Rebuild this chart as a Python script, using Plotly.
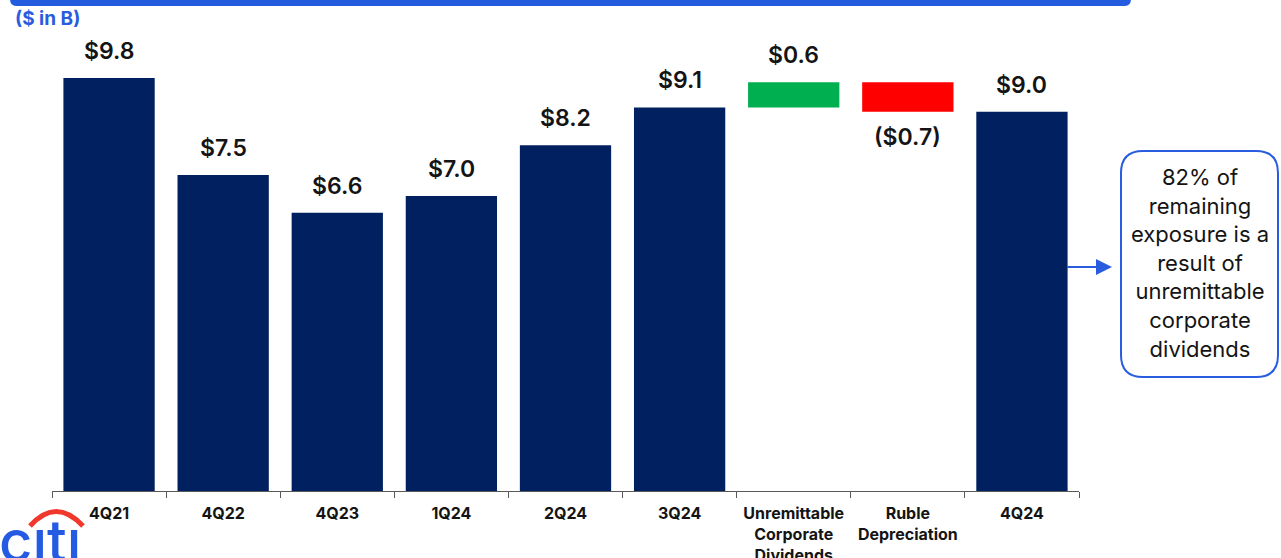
import plotly.graph_objects as go

# Russia exposure ($B) by period, plus the bridge from 3Q24 to 4Q24
categories = ["4Q21", "4Q22", "4Q23", "1Q24", "2Q24", "3Q24",
              "Unremittable<br>Corporate<br>Dividends", "Ruble<br>Depreciation", "4Q24"]
period_values = [9.8, 7.5, 6.6, 7.0, 8.2, 9.1]
bridge_changes = [0.6, -0.7]
ending_value = 9.0
unit_note = "($ in B)"
callout_lines = ["82% of", "remaining", "exposure is a", "result of",
                 "unremittable", "corporate", "dividends"]

NAVY = "#002060"
GREEN = "#00B050"
RED = "#FF0000"
BLUE = "#2A5CE0"
TEXT = "#141414"

W, H = 1281, 558
ML, MR, MT, MB = 52, 202, 30, 67
PW, PH = W - ML - MR, H - MT - MB
Y_MAX = PH / 42.15


def px(x):
    return (x - ML) / PW


def py(y):
    return (H - MB - y) / PH


measures = ["absolute"] * len(period_values) + ["relative"] * len(bridge_changes) + ["total"]
values = period_values + bridge_changes + [ending_value]

fig = go.Figure(go.Waterfall(
    x=categories,
    y=values,
    measure=measures,
    base=0,
    increasing=dict(marker=dict(color=GREEN)),
    decreasing=dict(marker=dict(color=RED)),
    totals=dict(marker=dict(color=NAVY)),
    connector=dict(visible=False),
    hoverinfo="skip",
))

# value labels, placed from the running total
annotations = []
running = 0.0
for cat, m, v in zip(categories, measures, values):
    if m == "absolute":
        running = v
        top, label, below = v, f"${v:.1f}", False
    elif m == "relative":
        running = round(running + v, 4)
        if v >= 0:
            top, label, below = running, f"${v:.1f}", False
        else:
            top, label, below = running, f"(${abs(v):.1f})", True
    else:
        top, label, below = running, f"${running:.1f}", False
    annotations.append(dict(
        x=cat, y=top, xref="x", yref="y", text=label, showarrow=False,
        yanchor="top" if below else "bottom", yshift=-9 if below else 11,
        font=dict(family="Inter", size=23, color=TEXT, weight=600),
    ))

annotations.append(dict(
    x=px(13), y=py(18), xref="paper", yref="paper", text=unit_note, showarrow=False,
    xanchor="left", yanchor="middle",
    font=dict(family="Inter", size=19, color=BLUE, weight=700),
))

annotations.append(dict(
    x=px(1200), y=py(263), xref="paper", yref="paper",
    text="<br>".join(callout_lines), showarrow=False, align="center",
    xanchor="center", yanchor="middle",
    font=dict(family="Inter", size=22, color=TEXT),
))

annotations.append(dict(
    x=px(-3), y=py(541), xref="paper", yref="paper", text="cıtı", showarrow=False,
    xanchor="left", yanchor="middle",
    font=dict(family="Inter", size=58, color="#255BE3", weight=500),
))


def rounded_rect(x0, y0, x1, y1, r):
    X0, X1 = px(x0), px(x1)
    Y0, Y1 = py(y0), py(y1)
    rx, ry = r / PW, r / PH
    return (f"M{X0 + rx},{Y0} L{X1 - rx},{Y0} Q{X1},{Y0} {X1},{Y0 - ry} "
            f"L{X1},{Y1 + ry} Q{X1},{Y1} {X1 - rx},{Y1} L{X0 + rx},{Y1} "
            f"Q{X0},{Y1} {X0},{Y1 + ry} L{X0},{Y0 - ry} Q{X0},{Y0} {X0 + rx},{Y0} Z")


shapes = [
    # header band
    dict(type="path", xref="paper", yref="paper", path=rounded_rect(10, -20, 1131, 6, 7),
         fillcolor="#245CE0", line=dict(width=0)),
    # callout box
    dict(type="path", xref="paper", yref="paper", path=rounded_rect(1121, 151, 1278, 377, 22),
         fillcolor="white", line=dict(color=BLUE, width=2)),
    # arrow shaft and head
    dict(type="line", xref="paper", yref="paper", x0=px(1067), x1=px(1098), y0=py(267), y1=py(267),
         line=dict(color=BLUE, width=2)),
    dict(type="path", xref="paper", yref="paper",
         path=f"M{px(1096)},{py(259)} L{px(1112)},{py(267)} L{px(1096)},{py(275)} Z",
         fillcolor=BLUE, line=dict(width=0)),
    # logo arc
    dict(type="path", xref="paper", yref="paper",
         path=f"M{px(30)},{py(526)} Q{px(56)},{py(497)} {px(83)},{py(526)}",
         line=dict(color="#F0382C", width=5)),
]

fig.update_layout(
    width=W, height=H,
    margin=dict(l=ML, r=MR, t=MT, b=MB, pad=0),
    paper_bgcolor="white", plot_bgcolor="white",
    waterfallgap=0.2,
    showlegend=False,
    annotations=annotations,
    shapes=shapes,
    xaxis=dict(
        type="category", showline=True, linecolor="#595959", linewidth=1,
        ticks="outside", tickson="boundaries", ticklen=6, tickcolor="#595959", tickwidth=1,
        ticklabelstandoff=8,
        tickfont=dict(family="Inter", size=16, color=TEXT, weight=700),
        showgrid=False, fixedrange=True, automargin=False,
    ),
    yaxis=dict(range=[0, Y_MAX], visible=False, showgrid=False, fixedrange=True),
)

fig.write_html("out.html")
